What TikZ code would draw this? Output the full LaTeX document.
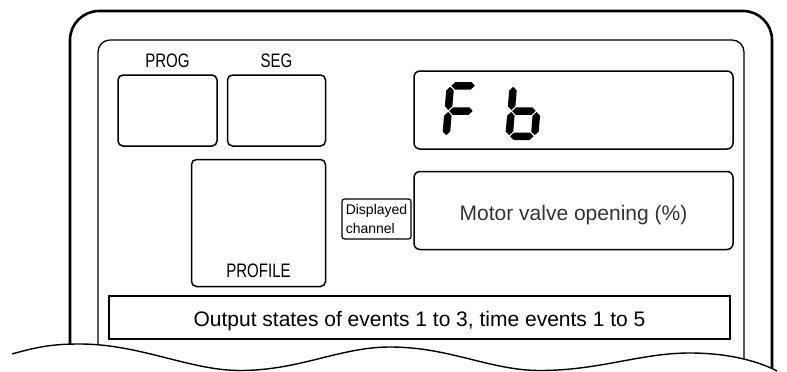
\documentclass[tikz,border=0pt]{standalone}
\usepackage{fontspec}
\setmainfont{Liberation Sans}
\newfontfamily\narrowsf[FakeStretch=0.77]{Liberation Sans}
\usetikzlibrary{positioning}

\newcommand{\hseg}[2]{\fill (#1-11.75,#2) -- ++(3.75,3.75) -- ++(16,0) -- ++(3.75,-3.75) -- ++(-3.75,-3.75) -- ++(-16,0) -- cycle;}
\newcommand{\vseg}[2]{\fill (#1,#2-11.625) -- ++(3.75,3.75) -- ++(0,15.75) -- ++(-3.75,3.75) -- ++(-3.75,-3.75) -- ++(0,-15.75) -- cycle;}
\newcommand{\wavepath}{(12,354) .. controls (40,346) and (55,344) .. (80,344) .. controls (140,344) and (190,370.5) .. (240,370.5) .. controls (300,370.5) and (340,347) .. (390,347) .. controls (450,347) and (490,370.5) .. (540,370.5) .. controls (600,370.5) and (640,353) .. (690,353) .. controls (730,353) and (760,362) .. (777,371)}

\begin{document}
\begin{tikzpicture}[x=1pt,y=-1pt,
  font=\fontsize{21}{25}\selectfont,
  panel/.style={draw,line width=1.5pt,rounded corners=5pt,inner sep=0pt},
  lbl/.style={font=\narrowsf\fontsize{19.5}{22}\selectfont,inner sep=0pt},
  frame/.style={line width=2.6pt,rounded corners=29pt},
  inframe/.style={line width=1.3pt,rounded corners=12pt},
  digit/.style={x=1pt,y={(0.085pt,1pt)}}
]
\useasboundingbox (0,0) rectangle (787,372);
\begin{scope}
\clip \wavepath -- (787,371) -- (787,0) -- (0,0) -- (0,354) -- cycle;
\draw[frame] (70,380) -- (70,11) -- (772,11) -- (772,380);
\draw[inframe] (98,380) -- (98,40) -- (744,40) -- (744,380);
\end{scope}
\draw[line width=1.4pt] \wavepath;

\node[panel,minimum width=99pt,minimum height=71pt] (prog) at (167.5,110.5) {};
\node[panel,minimum width=98pt,minimum height=71pt,right=9pt of prog] (seg) {};
\node[lbl,above=6pt of prog] (progl) {PROG};
\node[lbl,above=6pt of seg] (segl) {SEG};
\node[panel,minimum width=134pt,minimum height=127pt,below left=12pt and 0pt of seg.south east] (prof) {};
\node[lbl,above=9pt of prof.south] (profl) {PROFILE};
\node[panel,rounded corners=6pt,minimum width=319pt,minimum height=78pt] (fb) at (573.5,110) {};
\node[panel,rounded corners=6pt,minimum width=319pt,minimum height=78pt,below=21pt of fb,
  text=black!80,text height=23.5pt,text depth=4.5pt] (mv) {Motor valve opening (\%)};
\node[panel,line width=1.2pt,rounded corners=2.5pt,minimum width=69pt,minimum height=40pt,
  align=left,font=\fontsize{14}{19}\selectfont] (chan) at (376.5,219) {Displayed\\channel};
\node[draw,line width=1.5pt,inner sep=0pt,minimum width=621pt,minimum height=43pt,
  text height=23pt,text depth=4.5pt] (outs) at (419.5,317.5) {Output states of events 1 to 3, time events 1 to 5};

\begin{scope}[shift={(442,140)},digit]
\hseg{16.5}{54.25} \hseg{16.5}{29} \vseg{3.75}{41.6} \vseg{3.75}{16.4}
\end{scope}
\begin{scope}[shift={(505,140)},digit]
\hseg{16.5}{29} \hseg{16.5}{3.75} \vseg{3.75}{41.6} \vseg{3.75}{16.4} \vseg{29.25}{16.4}
\end{scope}
\end{tikzpicture}
\end{document}
